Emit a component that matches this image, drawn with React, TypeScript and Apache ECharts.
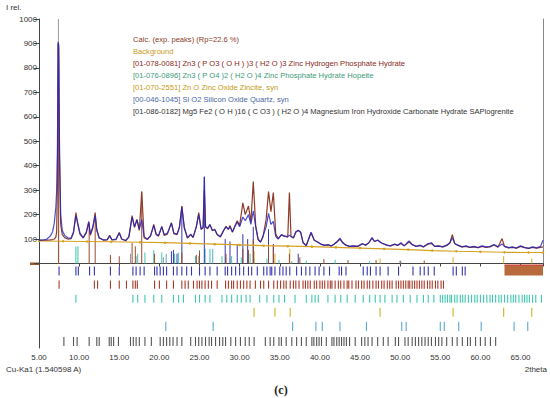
import React, { useEffect, useRef } from "react";
import * as echarts from "echarts";

// ---- profile data (2theta, intensity) ----
const twoTheta = [
  5.0, 5.5, 6.0, 6.4, 6.7, 6.9, 7.1, 7.2, 7.3, 7.38, 7.45, 7.55, 7.7, 7.9, 8.2, 8.6, 9.0, 9.3, 9.6, 9.8,
  10.1, 10.5, 10.9, 11.2, 11.4, 11.7, 12.0, 12.2, 12.5, 13.0, 13.5, 13.8, 14.1, 14.6, 15.0, 15.3, 15.8, 16.2, 16.6, 16.9,
  17.2, 17.5, 17.8, 18.1, 18.5, 18.9, 19.3, 19.6, 19.9, 20.3, 20.6, 21.0, 21.5, 21.8, 22.2, 22.5, 22.8, 23.1, 23.5, 23.9,
  24.2, 24.6, 24.9, 25.2, 25.45, 25.6, 25.75, 26.0, 26.3, 26.6, 26.9, 27.2, 27.6, 28.0, 28.3, 28.6, 28.8, 29.1, 29.4, 29.7,
  30.0, 30.4, 30.7, 31.1, 31.4, 31.7, 32.0, 32.3, 32.6, 32.9, 33.3, 33.6, 33.9, 34.2, 34.5, 34.8, 35.2, 35.6, 36.0, 36.2,
  36.4, 36.7, 37.0, 37.3, 37.6, 37.9, 38.3, 38.6, 38.9, 39.3, 39.7, 40.2, 40.6, 41.0, 41.4, 41.8, 42.2, 42.5, 42.8, 43.2,
  43.7, 44.2, 44.7, 45.3, 45.7, 46.1, 46.5, 46.8, 47.2, 47.6, 48.0, 48.4, 48.8, 49.3, 49.7, 50.1, 50.5, 51.1, 51.5, 52.0,
  52.5, 52.9, 53.4, 53.9, 54.3, 54.8, 55.3, 55.8, 56.2, 56.5, 56.8, 57.2, 57.7, 58.2, 58.7, 59.2, 59.7, 60.2, 60.7, 61.2,
  61.7, 62.2, 62.7, 63.0, 63.5, 64.0, 64.5, 65.0, 65.5, 66.0, 66.5, 67.0, 67.5, 67.8,
];
const observed = [
  97, 96, 100, 112, 130, 165, 230, 300, 480, 907, 890, 500, 200, 135, 115, 105, 103, 130, 195, 170,
  125, 105, 130, 168, 120, 150, 195, 140, 105, 97, 98, 112, 97, 100, 125, 100, 93, 110, 190, 150,
  178, 140, 180, 110, 100, 115, 155, 120, 115, 150, 118, 125, 165, 125, 120, 150, 230, 150, 105, 120,
  108, 150, 200, 140, 150, 355, 150, 145, 160, 135, 140, 120, 110, 135, 150, 140, 150, 130, 150, 170,
  150, 190, 175, 200, 160, 215, 150, 100, 87, 110, 150, 205, 160, 172, 110, 100, 118, 112, 110, 116,
  110, 105, 130, 135, 128, 85, 72, 100, 128, 95, 88, 78, 74, 77, 72, 80, 92, 104, 88, 75,
  70, 72, 70, 82, 75, 85, 106, 90, 96, 85, 80, 75, 72, 80, 75, 85, 72, 92, 78, 70,
  75, 68, 80, 85, 70, 72, 68, 75, 85, 105, 82, 75, 68, 72, 66, 70, 65, 72, 68, 70,
  78, 68, 80, 70, 65, 68, 63, 72, 66, 62, 68, 64, 70, 95,
];
const calculated = [
  95, 95, 96, 97, 98, 100, 108, 130, 330, 900, 880, 420, 160, 118, 106, 100, 102, 125, 208, 165,
  120, 105, 125, 172, 115, 145, 208, 135, 104, 96, 97, 115, 96, 98, 127, 100, 94, 108, 196, 148,
  180, 135, 294, 105, 98, 112, 160, 118, 112, 152, 115, 120, 167, 122, 118, 148, 235, 145, 104, 118,
  106, 150, 208, 140, 145, 300, 150, 142, 158, 135, 138, 118, 108, 135, 152, 140, 155, 128, 152, 175,
  155, 248, 200, 235, 170, 335, 155, 98, 88, 108, 180, 294, 212, 290, 120, 102, 116, 112, 108, 290,
  112, 104, 128, 136, 128, 86, 74, 100, 126, 95, 88, 78, 74, 76, 72, 80, 90, 100, 86, 76,
  70, 71, 70, 80, 75, 85, 104, 90, 95, 86, 79, 74, 72, 78, 74, 82, 72, 88, 77, 70,
  73, 68, 78, 82, 70, 71, 68, 74, 84, 118, 82, 74, 68, 70, 66, 68, 65, 70, 66, 68,
  76, 67, 102, 70, 64, 66, 63, 70, 65, 62, 66, 63, 66, 68,
];
const bgTheta = [5, 8, 11, 14, 17.6, 20.7, 23.8, 26.9, 30, 33, 36, 39, 42, 45, 48, 51, 54, 57, 60, 63, 66, 67.8];
const background = [92, 91, 90, 89, 87, 85, 82, 79, 76, 73, 71, 69, 66, 63, 60, 57, 53, 50, 48, 46, 45, 45];

// ---- sticks drawn in the main plot: [2theta, height] ----
const mainZnHPhos = [
  [7.45, 900], [11.25, 165], [12.0, 200], [13.9, 35], [15.0, 30], [16.6, 85], [17.0, 70], [17.8, 294],
  [19.4, 40], [22.8, 45], [24.6, 35], [25.0, 50], [28.3, 40], [30.4, 60], [31.1, 55], [31.7, 100],
  [33.6, 80], [34.2, 75], [36.2, 40], [37.5, 25], [40.5, 18], [43.5, 14], [47.0, 14], [50.0, 12], [53.0, 12],
];
const mainHopeite = [
  [9.6, 70], [9.85, 70], [17.3, 40], [18.2, 45], [19.3, 55], [20.3, 45], [21.9, 40], [22.4, 45], [24.5, 30],
  [25.0, 55], [25.7, 60], [26.3, 60], [27.8, 30], [29.0, 30], [30.2, 25], [31.3, 40], [33.4, 20], [34.9, 15],
  [38.3, 12], [41.9, 15], [46.2, 10],
];
const mainExpPeaks = [
  [21.5, 50], [21.75, 55], [22.2, 40], [22.8, 233], [25.6, 355], [28.2, 100], [28.8, 90], [29.7, 80],
  [30.4, 120], [31.0, 100], [31.7, 150], [33.6, 140], [34.2, 80], [37.3, 40],
];
const mainZincite = [[31.8, 50], [34.4, 40], [36.25, 60], [47.5, 20], [56.6, 25], [62.9, 30], [66.4, 20]];
const mainQuartz = [[20.85, 40], [26.65, 60], [36.5, 10], [50.1, 8]];
const mainSaplo = [[7.42, 1000], [16.4, 40], [17.1, 30], [20.5, 25], [24.9, 30], [28.25, 25], [31.8, 20], [34.25, 15]];

// ---- stick rows under the plot (2theta positions) ----
const rowExpPeaks = [
  7.5, 9.6, 9.9, 11.3, 11.9, 13.9, 15.0, 16.7, 17.1, 17.6, 18.1, 19.4, 19.7, 20.1, 20.5, 20.9, 21.75, 22.2, 22.8,
  23.4, 24.0, 25.0, 25.7, 26.3, 27.2, 28.2, 28.5, 29.0, 29.5, 30.0, 30.5, 31.1, 31.5, 32.2, 33.0, 33.4, 33.8, 34.0,
  34.4, 35.0, 35.4, 35.8, 36.25, 37.1, 37.7, 38.25, 38.75, 39.4, 39.9, 40.5, 41.2, 42.4, 42.7, 43.25, 45.4, 45.9,
  46.3, 47.0, 47.5, 48.5, 49.8, 51.6, 52.5, 53.0, 53.5, 54.25, 56.6, 57.0, 57.75, 58.1,
];
const rowZnHPhos = [
  7.5, 11.9, 12.3, 13.9, 15.0, 15.9, 16.7, 17.0, 17.25, 19.4, 20.0, 20.9, 21.75, 22.8, 23.2, 23.6, 24.25, 24.7,
  25.0, 25.3, 25.7, 26.1, 26.5, 27.2, 28.25, 28.6, 29.0, 29.25, 29.7, 30.1, 30.5, 30.9, 31.3, 31.96, 32.6, 33.0,
  33.6, 34.25, 34.7, 35.1, 35.5, 35.8, 36.3, 36.7, 37.0, 37.4, 37.9, 38.2, 38.5, 38.8, 39.3, 39.6, 40.0, 40.3,
  40.6, 41.0, 41.3, 41.5, 41.9, 42.3, 42.6, 43.0, 43.4, 43.6, 44.0, 44.5, 44.8, 45.2, 45.5, 45.9, 46.2, 46.6,
  47.0, 47.3, 47.7, 48.0, 48.4, 48.7, 49.0, 49.5, 49.8, 50.1, 50.4, 50.7, 51.0, 51.2, 51.5, 51.8, 52.1, 52.4,
  52.7, 53.0, 53.4, 53.7, 54.0, 54.4, 54.7, 55.1, 55.4,
];
const rowHopeite = [
  9.6, 16.7, 17.3, 18.2, 19.3, 20.3, 21.75, 22.4, 23.0, 24.5, 25.0, 25.7, 26.3, 27.8, 28.4, 29.0, 29.7, 30.2,
  30.8, 31.3, 32.5, 33.4, 34.25, 34.9, 35.6, 36.9, 38.3, 39.0, 39.4, 39.8, 41.0, 41.9, 42.6, 43.4, 44.4, 45.4,
  46.2, 46.9, 47.5, 48.1, 49.0, 49.6, 50.4, 51.25, 52.1, 52.9, 53.5, 54.2, 55.0, 55.3, 55.6, 55.9, 56.2, 56.4,
  56.8, 57.1, 57.5, 57.8, 58.1, 58.5, 58.9, 59.3, 59.6, 60.0, 60.4, 60.8, 61.2, 61.5, 61.9, 62.3, 62.6, 63.0,
  63.4, 63.8, 64.1, 64.4, 64.8, 65.2, 65.5, 65.8, 66.1, 66.5, 66.9, 67.6,
];
const rowZincite = [31.8, 34.4, 36.3, 47.5, 56.6, 62.9, 66.4];
const rowQuartz = [20.8, 26.7, 36.6, 39.5, 40.3, 42.5, 45.8, 50.2, 50.75, 55.0, 55.5, 57.3, 60.1, 64.2, 65.9];
const rowSaplo = [
  8.1, 9.3, 9.75, 11.25, 12.2, 12.5, 13.75, 14.0, 14.3, 14.9, 16.4, 16.75, 17.1, 17.5, 18.2, 19.0, 20.1, 20.5,
  20.9, 21.3, 21.7, 22.2, 22.8, 23.9, 24.5, 24.9, 25.3, 25.75, 26.2, 26.5, 27.0, 27.5, 27.9, 28.25, 28.9, 29.5,
  30.1, 30.7, 31.2, 31.8, 33.2, 33.8, 34.25, 34.9, 35.2, 35.8, 36.5, 37.1, 37.7, 38.3, 39.0, 39.25, 39.6, 39.9,
  40.2, 40.8, 41.5, 41.75, 42.1, 42.4, 42.7, 43.0, 43.3, 43.7, 44.4, 45.2, 45.6, 46.0, 46.5, 47.2, 47.9, 48.5,
  49.4, 49.8, 50.6, 51.0, 51.5, 51.9, 52.3, 52.7, 53.1, 53.5, 53.9, 54.4, 54.8, 55.2, 55.8, 56.5, 57.1, 57.75,
  58.4, 58.75, 59.4, 60.0, 60.6, 61.25, 61.9,
];
const excludedRange = [63.0, 67.8];

const legendLines = [
  { text: "Calc. (exp. peaks) (Rp=22.6 %)", color: "#8B3A2A" },
  { text: "Background", color: "#C99A25" },
  { text: "[01-078-0081] Zn3 ( P O3 ( O H ) )3 ( H2 O )3 Zinc Hydrogen Phosphate Hydrate", color: "#8A1F1A" },
  { text: "[01-076-0896] Zn3 ( P O4 )2 ( H2 O )4 Zinc Phosphate Hydrate Hopeite", color: "#3E9A78" },
  { text: "[01-070-2551] Zn O Zinc Oxide Zincite, syn", color: "#C49A10" },
  { text: "[00-046-1045] Si O2 Silicon Oxide Quartz, syn", color: "#4A66A6" },
  { text: "[01-086-0182] Mg5 Fe2 ( O H )16 ( C O3 ) ( H2 O )4 Magnesium Iron Hydroxide Carbonate Hydrate SAPlogrenite", color: "#333333" },
];

const FONT = "'Liberation Sans', Arial, sans-serif";

function mainSticks(data: number[][], color: string, width = 1) {
  return {
    type: "custom",
    xAxisIndex: 0,
    yAxisIndex: 0,
    silent: true,
    z: 1,
    data,
    renderItem: (_p: any, api: any) => {
      const x = api.value(0);
      const h = api.value(1);
      const a = api.coord([x, 0]);
      const b = api.coord([x, h]);
      return {
        type: "line",
        shape: { x1: a[0], y1: a[1], x2: b[0], y2: b[1] },
        style: { stroke: color, lineWidth: width },
      };
    },
  };
}

function rowSticks(pos: number[], color: string, y0: number, y1: number) {
  return {
    type: "custom",
    xAxisIndex: 1,
    yAxisIndex: 1,
    silent: true,
    data: pos.map((p) => [p, y0]),
    renderItem: (_p: any, api: any) => {
      const x = api.value(0);
      const a = api.coord([x, y0]);
      const b = api.coord([x, y1]);
      return {
        type: "line",
        shape: { x1: a[0], y1: a[1], x2: b[0], y2: b[1] },
        style: { stroke: color, lineWidth: 1.1 },
      };
    },
  };
}

export default function App() {
  const ref = useRef<HTMLDivElement>(null);
  useEffect(() => {
    if (!ref.current) return;
    const chart = echarts.init(ref.current, undefined, { renderer: "svg" });
    const option: any = {
      animation: false,
      backgroundColor: "#ffffff",
      textStyle: { fontFamily: FONT },
      grid: [
        { left: 39, right: 7, top: 19, height: 244.5 },
        { left: 39, right: 7, top: 263.5, height: 84.5 },
      ],
      xAxis: [
        {
          gridIndex: 0, type: "value", min: 5, max: 67.8, interval: 5,
          axisLabel: { show: false }, axisTick: { show: false },
          axisLine: { show: true, onZero: false, lineStyle: { color: "#555", width: 1 } },
          splitLine: { show: false },
        },
        {
          gridIndex: 1, type: "value", min: 5, max: 67.8, interval: 5,
          axisLabel: {
            fontSize: 8, color: "#333", margin: 5, fontFamily: FONT,
            formatter: (v: number) => (Math.abs(v % 5) < 1e-6 ? v.toFixed(2) : ""),
          },
          axisTick: { show: true, length: 3, lineStyle: { color: "#444" } },
          axisLine: { show: true, lineStyle: { color: "#444", width: 1 } },
          splitLine: { show: false },
        },
      ],
      yAxis: [
        {
          gridIndex: 0, type: "value", min: 0, max: 1000, interval: 100,
          axisLabel: {
            fontSize: 8, color: "#333", margin: 2, fontFamily: FONT,
            formatter: (v: number) => (v === 0 ? "" : String(v)),
          },
          axisTick: { show: true, length: 5, lineStyle: { color: "#444" } },
          axisLine: { show: true, lineStyle: { color: "#444", width: 1 } },
          splitLine: { show: false },
        },
        {
          gridIndex: 1, type: "value", min: 0, max: 84, inverse: true,
          axisLabel: { show: false }, axisTick: { show: false },
          axisLine: { show: true, lineStyle: { color: "#444", width: 1 } },
          splitLine: { show: false },
        },
        {
          gridIndex: 0, type: "value", min: 0, max: 1000, position: "right",
          axisLabel: { show: false }, axisTick: { show: false },
          axisLine: { show: true, lineStyle: { color: "#888", width: 1 } },
          splitLine: { show: false },
        },
      ],
      series: [
        mainSticks(mainSaplo, "#9a9a9a"),
        mainSticks(mainQuartz, "#5AA8D8"),
        mainSticks(mainHopeite, "#3FC6AE"),
        mainSticks(mainZincite, "#D8B020"),
        mainSticks(mainExpPeaks, "#3535B5"),
        mainSticks(mainZnHPhos, "#9A4A2A"),
        {
          name: "Background", type: "line", xAxisIndex: 0, yAxisIndex: 0, z: 3,
          data: bgTheta.map((t, i) => [t, background[i]]),
          showSymbol: true, symbol: "circle", symbolSize: 2.5,
          itemStyle: { color: "#D4A020" },
          lineStyle: { color: "#D4A020", width: 1.2 },
          silent: true,
        },
        {
          name: "Calc. (exp. peaks) (Rp=22.6 %)", type: "line", xAxisIndex: 0, yAxisIndex: 0, z: 4,
          data: twoTheta.map((t, i) => [t, calculated[i]]),
          showSymbol: false, lineStyle: { color: "#8E3B2A", width: 1.2 }, silent: true,
        },
        {
          name: "Observed", type: "line", xAxisIndex: 0, yAxisIndex: 0, z: 5,
          data: twoTheta.map((t, i) => [t, observed[i]]),
          showSymbol: false, lineStyle: { color: "#2222C0", width: 1.2, opacity: 0.8 }, silent: true,
        },
        rowSticks(rowExpPeaks, "#3636B0", 3, 12),
        rowSticks(rowZnHPhos, "#A83A2A", 17, 25),
        rowSticks(rowHopeite, "#3EC8B0", 31, 39),
        rowSticks(rowZincite, "#D4AE20", 44, 53),
        rowSticks(rowQuartz, "#5AA8D8", 58, 67),
        rowSticks(rowSaplo, "#555555", 73, 82),
        {
          type: "custom", xAxisIndex: 1, yAxisIndex: 1, silent: true,
          data: [[excludedRange[0], excludedRange[1]]],
          renderItem: (_p: any, api: any) => {
            const a = api.coord([api.value(0), 1.5]);
            const b = api.coord([api.value(1), 12]);
            return {
              type: "group",
              children: [
                { type: "rect", shape: { x: a[0], y: a[1], width: b[0] - a[0], height: b[1] - a[1] }, style: { fill: "#B86A3C" } },
                { type: "line", shape: { x1: a[0], y1: a[1], x2: b[0], y2: a[1] }, style: { stroke: "#D03A3A", lineWidth: 1 } },
              ],
            };
          },
        },
      ],
      graphic: [
        { type: "rect", shape: { x: 30, y: 262.5, width: 9, height: 2.5 }, style: { fill: "#A0522D" } },
        { type: "text", x: 6, y: 7, style: { text: "I rel.", fill: "#333", fontSize: 8, fontFamily: FONT, verticalAlign: "middle" } },
        { type: "text", x: 6, y: 369, style: { text: "Cu-Ka1 (1.540598 A)", fill: "#333", fontSize: 8, fontFamily: FONT, verticalAlign: "middle" } },
        { type: "text", x: 547, y: 369, style: { text: "2theta", fill: "#333", fontSize: 8, fontFamily: FONT, align: "right", verticalAlign: "middle" } },
        { type: "text", x: 281, y: 390, style: { text: "(c)", fill: "#222", fontSize: 12, fontWeight: "bold", fontFamily: "'Liberation Serif', 'DejaVu Serif', serif", align: "center", verticalAlign: "middle" } },
        ...legendLines.map((l, i) => ({
          type: "text", x: 133, y: 39 + i * 12,
          style: { text: l.text, fill: l.color, fontSize: 7.6, fontFamily: FONT, verticalAlign: "middle" },
        })),
      ],
    };
    chart.setOption(option);
    return () => chart.dispose();
  }, []);
  return <div ref={ref} style={{ position: "fixed", left: 0, top: 0, width: 550, height: 398, background: "#fff" }} />;
}
